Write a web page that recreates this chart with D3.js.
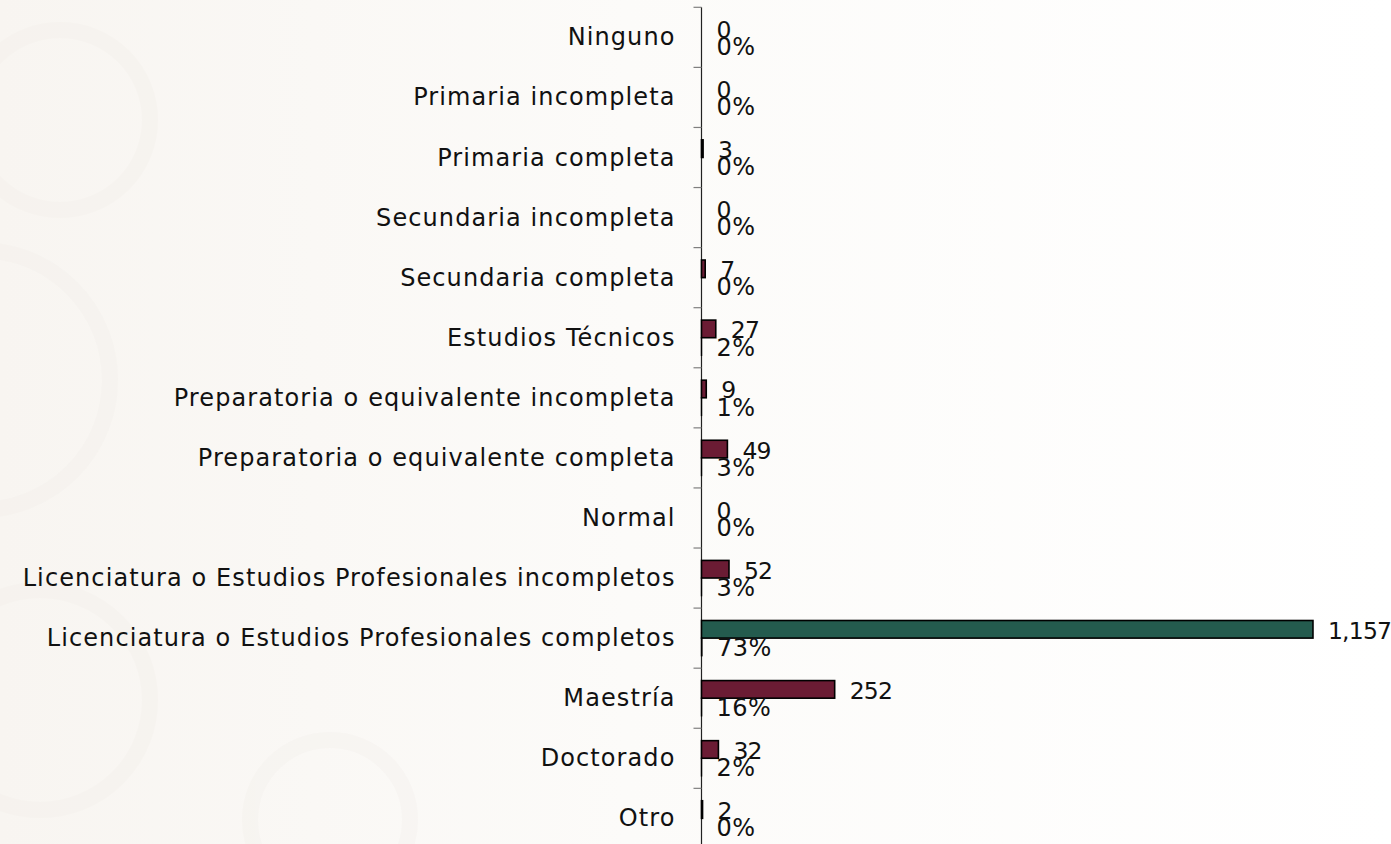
<!DOCTYPE html>
<html>
<head>
<meta charset="utf-8">
<script src="https://cdn.jsdelivr.net/npm/d3@7"></script>
<style>
  html, body { margin: 0; padding: 0; background: #fbf9f6; }
  svg { display: block; }
</style>
</head>
<body>
<svg id="chart" width="1391" height="844"></svg>
<script>
const categories = [
  "Ninguno",
  "Primaria incompleta",
  "Primaria completa",
  "Secundaria incompleta",
  "Secundaria completa",
  "Estudios Técnicos",
  "Preparatoria o equivalente incompleta",
  "Preparatoria o equivalente completa",
  "Normal",
  "Licenciatura o Estudios Profesionales incompletos",
  "Licenciatura o Estudios Profesionales completos",
  "Maestría",
  "Doctorado",
  "Otro"
];
const counts = [0, 0, 3, 0, 7, 27, 9, 49, 0, 52, 1157, 252, 32, 2];
const percents = [0, 0, 0, 0, 0, 2, 1, 3, 0, 3, 73, 16, 2, 0];

const W = 1391, H = 844;
const svg = d3.select("#chart");

// background
const defs = svg.append("defs");
const grad = defs.append("linearGradient").attr("id", "bg").attr("x1", "0").attr("x2", "1").attr("y1", "0").attr("y2", "0");
grad.append("stop").attr("offset", "0").attr("stop-color", "#f8f5f1");
grad.append("stop").attr("offset", "0.45").attr("stop-color", "#fcfbf9");
grad.append("stop").attr("offset", "1").attr("stop-color", "#ffffff");
svg.append("rect").attr("width", W).attr("height", H).attr("fill", "url(#bg)");
const deco = svg.append("g").attr("fill", "none").attr("stroke", "#f1ede7").attr("stroke-width", 16).attr("opacity", 0.25);
deco.append("circle").attr("cx", -20).attr("cy", 380).attr("r", 130);
deco.append("circle").attr("cx", 60).attr("cy", 120).attr("r", 90);
deco.append("circle").attr("cx", 40).attr("cy", 700).attr("r", 110);
deco.append("circle").attr("cx", 330).attr("cy", 820).attr("r", 80);

const font = "'DejaVu Sans', sans-serif";
const labelSize = 24, labelSpacing = 1.1;
const countSize = 23.5, countSpacing = -0.8;
const pctSize = 24, pctSpacing = 0.5;

const bandTop = 7.3, bandStep = 60.08;
const y = d3.scaleBand()
  .domain(categories)
  .range([bandTop, bandTop + bandStep * categories.length])
  .padding(0);

const sub = d3.scaleBand()
  .domain(["count", "pct"])
  .range([12.4, 47.6])
  .padding(0);

const x = d3.scaleLinear()
  .domain([0, 1300])
  .range([701.5, 701.5 + 1300 * 0.5285]);

const maxVal = d3.max(counts);
const maroon = "#6b1c34", green = "#245b4e";

// axis
const axis = d3.axisLeft(y).tickSize(0).tickFormat("");
const gAxis = svg.append("g").attr("transform", `translate(${x(0)},0)`).call(axis);
gAxis.select(".domain").attr("stroke", "#222").attr("stroke-width", 1.2)
  .attr("d", `M0,${bandTop}V${bandTop + bandStep * categories.length}`);
const bounds = d3.range(categories.length + 1).map(i => bandTop + i * bandStep);
gAxis.selectAll("line.bt").data(bounds).join("line")
  .attr("class", "bt")
  .attr("x1", -8).attr("x2", 0)
  .attr("y1", d => d).attr("y2", d => d)
  .attr("stroke", "#7f7f7f").attr("stroke-width", 1.2);

// category labels
svg.append("g").selectAll("text").data(categories).join("text")
  .attr("x", x(0) - 26)
  .attr("y", d => y(d) + y.bandwidth() / 2)
  .attr("text-anchor", "end")
  .attr("dominant-baseline", "central")
  .attr("font-family", font).attr("font-size", labelSize)
  .attr("letter-spacing", labelSpacing).attr("fill", "#111")
  .text(d => d);

const rows = categories.map((c, i) => ({ c, n: counts[i], p: percents[i] }));

// count bars
svg.append("g").selectAll("rect").data(rows.filter(r => r.n > 0)).join("rect")
  .attr("x", x(0))
  .attr("y", d => y(d.c) + sub("count"))
  .attr("width", d => x(d.n) - x(0))
  .attr("height", sub.bandwidth())
  .attr("fill", d => d.n === maxVal ? green : maroon)
  .attr("stroke", "#000").attr("stroke-width", 1.6);

// percent bars (fraction of 1)
svg.append("g").selectAll("rect").data(rows).join("rect")
  .attr("x", x(0))
  .attr("y", d => y(d.c) + sub("pct"))
  .attr("width", d => Math.max(0, x(d.p / 100) - x(0)))
  .attr("height", sub.bandwidth())
  .attr("fill", maroon)
  .attr("stroke", "#000").attr("stroke-width", 1.4);

const fmt = d3.format(",");
svg.append("g").selectAll("text").data(rows).join("text")
  .attr("x", d => x(d.n) + 15)
  .attr("y", d => y(d.c) + sub("count") + sub.bandwidth() / 2 + 1.5)
  .attr("dominant-baseline", "central")
  .attr("font-family", font).attr("font-size", countSize)
  .attr("letter-spacing", countSpacing).attr("fill", "#111")
  .text(d => fmt(d.n));

svg.append("g").selectAll("text").data(rows).join("text")
  .attr("x", d => x(d.p / 100) + 15)
  .attr("y", d => y(d.c) + sub("pct") + sub.bandwidth() / 2 + 1)
  .attr("dominant-baseline", "central")
  .attr("font-family", font).attr("font-size", pctSize)
  .attr("letter-spacing", pctSpacing).attr("fill", "#111")
  .text(d => d.p + "%");
</script>
</body>
</html>
